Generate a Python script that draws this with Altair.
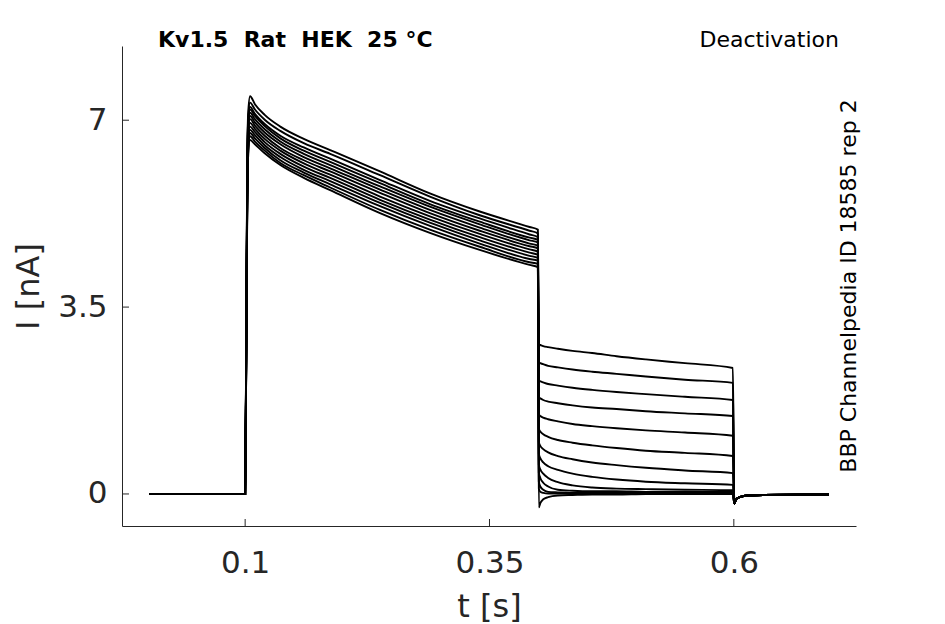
import altair as alt
import pandas as pd

# ---- time bases (s) ----
T_PRE = [0.002, 0.050, 0.099]
T_PULSE = [0.1000, 0.1010, 0.1020, 0.1030, 0.1050, 0.1100, 0.1200, 0.1360,
           0.1600, 0.1870, 0.2380, 0.2890, 0.3400, 0.3910, 0.3995]
T_TAIL = [0.4005, 0.4020, 0.4050, 0.4100, 0.4200, 0.4350, 0.4550, 0.4800,
          0.5100, 0.5500, 0.5990]
T_POST = [0.6005, 0.6020, 0.6060, 0.6150, 0.6300, 0.6970]

# ---- shared baseline currents (nA) ----
I_PRE = [0.0, 0.0, 0.0]
I_POST = [-0.18, -0.11, -0.06, -0.03, -0.02, -0.01]

# ---- pulse currents per sweep (nA) ----
pulse_01 = [0, 2.6, 5.8, 7.10, 7.45, 7.30, 7.10, 6.88, 6.65, 6.44, 6.04, 5.63, 5.29, 5.00, 4.95]
pulse_02 = [0, 2.5, 5.7, 7.00, 7.33, 7.20, 7.01, 6.80, 6.57, 6.37, 5.97, 5.57, 5.22, 4.93, 4.88]
pulse_03 = [0, 2.5, 5.6, 6.95, 7.25, 7.12, 6.93, 6.71, 6.49, 6.28, 5.88, 5.49, 5.16, 4.86, 4.81]
pulse_04 = [0, 2.4, 5.6, 6.90, 7.20, 7.08, 6.89, 6.66, 6.43, 6.22, 5.82, 5.43, 5.10, 4.80, 4.76]
pulse_05 = [0, 2.4, 5.5, 6.85, 7.14, 7.02, 6.83, 6.60, 6.37, 6.16, 5.76, 5.38, 5.05, 4.75, 4.71]
pulse_06 = [0, 2.4, 5.4, 6.80, 7.08, 6.96, 6.77, 6.55, 6.31, 6.10, 5.70, 5.32, 4.99, 4.69, 4.65]
pulse_07 = [0, 2.3, 5.4, 6.72, 7.02, 6.90, 6.71, 6.48, 6.25, 6.04, 5.64, 5.26, 4.93, 4.64, 4.60]
pulse_08 = [0, 2.3, 5.3, 6.65, 6.95, 6.84, 6.65, 6.43, 6.19, 5.98, 5.57, 5.20, 4.87, 4.58, 4.54]
pulse_09 = [0, 2.3, 5.2, 6.58, 6.88, 6.78, 6.59, 6.37, 6.13, 5.92, 5.51, 5.14, 4.81, 4.52, 4.48]
pulse_10 = [0, 2.2, 5.2, 6.50, 6.82, 6.72, 6.53, 6.31, 6.07, 5.86, 5.45, 5.08, 4.75, 4.46, 4.42]
pulse_11 = [0, 2.2, 5.1, 6.45, 6.76, 6.66, 6.48, 6.25, 6.02, 5.80, 5.39, 5.02, 4.69, 4.40, 4.37]
pulse_12 = [0, 2.2, 5.0, 6.38, 6.70, 6.60, 6.43, 6.20, 5.97, 5.74, 5.32, 4.95, 4.63, 4.34, 4.31]
pulse_13 = [0, 2.2, 5.0, 6.30, 6.63, 6.55, 6.38, 6.16, 5.92, 5.69, 5.26, 4.89, 4.57, 4.29, 4.25]

# ---- tail currents per sweep (nA) ----
tail_01 = [2.80, 2.79, 2.77, 2.75, 2.72, 2.68, 2.64, 2.58, 2.52, 2.45, 2.36]
tail_02 = [2.46, 2.45, 2.43, 2.40, 2.37, 2.33, 2.29, 2.25, 2.20, 2.14, 2.08]
tail_03 = [2.13, 2.11, 2.09, 2.06, 2.03, 1.99, 1.95, 1.91, 1.87, 1.82, 1.76]
tail_04 = [1.81, 1.79, 1.76, 1.73, 1.70, 1.66, 1.62, 1.59, 1.55, 1.51, 1.46]
tail_05 = [1.49, 1.46, 1.43, 1.40, 1.36, 1.31, 1.27, 1.23, 1.19, 1.15, 1.09]
tail_06 = [1.22, 1.17, 1.12, 1.07, 1.01, 0.96, 0.91, 0.86, 0.81, 0.77, 0.71]
tail_07 = [0.97, 0.90, 0.84, 0.78, 0.71, 0.65, 0.59, 0.54, 0.49, 0.44, 0.39]
tail_08 = [0.75, 0.67, 0.59, 0.52, 0.45, 0.38, 0.32, 0.27, 0.23, 0.20, 0.17]
tail_09 = [0.55, 0.46, 0.38, 0.30, 0.22, 0.16, 0.12, 0.10, 0.09, 0.08, 0.07]
tail_10 = [0.40, 0.30, 0.21, 0.14, 0.08, 0.06, 0.05, 0.05, 0.04, 0.04, 0.04]
tail_11 = [0.23, 0.14, 0.08, 0.04, 0.03, 0.02, 0.02, 0.02, 0.02, 0.02, 0.02]
tail_12 = [0.10, 0.04, 0.02, 0.01, 0.01, 0.00, 0.00, 0.00, 0.00, 0.00, 0.00]
tail_13 = [-0.25, -0.17, -0.10, -0.06, -0.03, -0.02, -0.01, -0.01, 0.00, 0.00, 0.00]

PULSES = [pulse_01, pulse_02, pulse_03, pulse_04, pulse_05, pulse_06, pulse_07,
          pulse_08, pulse_09, pulse_10, pulse_11, pulse_12, pulse_13]
TAILS = [tail_01, tail_02, tail_03, tail_04, tail_05, tail_06, tail_07,
         tail_08, tail_09, tail_10, tail_11, tail_12, tail_13]

X_TICKS = [0.1, 0.35, 0.6]
Y_TICKS = [0, 3.5, 7]

NB = "\u00a0"
TITLE_LEFT = f"Kv1.5{NB} Rat{NB} HEK{NB} 25 °C"
TITLE_RIGHT = "Deactivation"
SIDE_NOTE = "BBP Channelpedia ID 18585 rep 2"

rows = []
for k, (p, tl) in enumerate(zip(PULSES, TAILS)):
    ts = T_PRE + T_PULSE + T_TAIL + T_POST
    vs = I_PRE + p + tl + I_POST
    for t, v in zip(ts, vs):
        rows.append({"t": t, "I": v, "sweep": k})
df = pd.DataFrame(rows)

W, H = 734, 480
FONT = "DejaVu Sans"
GREY = "#262626"

xscale = alt.Scale(domain=[-0.026, 0.725], nice=False, zero=False)
yscale = alt.Scale(domain=[-0.6, 8.39], nice=False, zero=False)

xaxis = alt.Axis(values=X_TICKS, format=".2~f", title="t [s]",
                 titleX=367, titleY=90, titleBaseline="alphabetic",
                 titleAlign="center",
                 labelPadding=46, labelBaseline="alphabetic")
yaxis = alt.Axis(values=Y_TICKS, format=".2~f", title="I [nA]",
                 titleX=-84, titleY=240, titleAngle=270,
                 titleBaseline="alphabetic", titleAlign="center",
                 labelPadding=15)

traces = alt.Chart(df).mark_line(
    color="black", strokeWidth=1.9, interpolate="monotone"
).encode(
    x=alt.X("t:Q", scale=xscale, axis=xaxis),
    y=alt.Y("I:Q", scale=yscale, axis=yaxis),
    detail="sweep:N",
)

xt = alt.Chart(pd.DataFrame({"t": X_TICKS})).mark_rule(color=GREY, strokeWidth=1).encode(
    x=alt.X("t:Q", scale=xscale, axis=xaxis),
    y=alt.value(H), y2=alt.value(H - 7),
)
yt = alt.Chart(pd.DataFrame({"I": Y_TICKS})).mark_rule(color=GREY, strokeWidth=1).encode(
    y=alt.Y("I:Q", scale=yscale, axis=yaxis),
    x=alt.value(0), x2=alt.value(7),
)

t_left = alt.Chart(pd.DataFrame({"s": [TITLE_LEFT]})).mark_text(
    font=FONT, fontSize=22, fontWeight="bold", align="left", baseline="alphabetic", color="black"
).encode(x=alt.value(36), y=alt.value(1), text="s:N")

t_right = alt.Chart(pd.DataFrame({"s": [TITLE_RIGHT]})).mark_text(
    font=FONT, fontSize=22, align="right", baseline="alphabetic", color="black"
).encode(x=alt.value(717), y=alt.value(1), text="s:N")

t_side = alt.Chart(pd.DataFrame({"s": [SIDE_NOTE]})).mark_text(
    font=FONT, fontSize=22, align="center", baseline="alphabetic", angle=270, color="black"
).encode(x=alt.value(734), y=alt.value(240), text="s:N")

chart = alt.layer(traces, xt, yt, t_left, t_right, t_side).properties(
    width=W, height=H,
    autosize=alt.AutoSizeParams(type="none"),
    padding={"left": 114, "top": 38, "right": 80, "bottom": 97},
    background="white",
).configure_view(stroke="transparent").configure_axis(
    grid=False, ticks=False, tickSize=0,
    domainColor=GREY, domainWidth=1,
    labelFont=FONT, labelFontSize=31, labelColor=GREY,
    titleFont=FONT, titleFontSize=32, titleFontWeight="normal", titleColor=GREY,
)

chart.save("out.html", embed_options={"renderer": "svg", "actions": False})
